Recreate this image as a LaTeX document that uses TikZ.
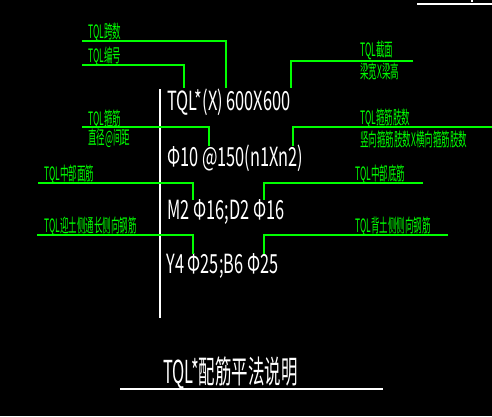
\documentclass[tikz,border=0pt]{standalone}
\usepackage{fontspec}
\setmainfont{Noto Sans CJK SC}[FakeStretch=0.62]
\newfontfamily\gfont{Noto Sans CJK SC}[FakeStretch=0.46]
\newfontfamily\tfont{Noto Sans CJK SC}[FakeStretch=0.52]
\definecolor{cadgreen}{RGB}{0,255,0}
\tikzset{
  wtext/.style={white,anchor=west,inner sep=0pt,font=\fontsize{15}{15}\selectfont},
  gtext/.style={cadgreen,anchor=west,inner sep=0pt,font=\gfont\fontsize{10.5}{10.5}\selectfont},
  leader/.style={cadgreen,line width=0.6pt},
  wline/.style={white,line width=0.6pt}
}

\begin{document}
\begin{tikzpicture}[x=0.02cm,y=-0.02cm]
	\fill[black] (0,0) rectangle (492,416);
	\useasboundingbox (0,0) rectangle (492,416);

	% white notation
	\node[wtext] (sec) at (167,102) {TQL*(X) 600X600};
	\node[wtext] (stir) at (167,158) {Φ10 @150(n1Xn2)};
	\node[wtext] (mid) at (167,212.5) {M2 Φ16;D2 Φ16};
	\node[wtext] (side) at (166,266.5) {Y4 Φ25;B6 Φ25};

	\coordinate (axtop) at (160,89);
	\coordinate (axbot) at (160,318);
	\draw[wline] (axtop) -- (axbot);

	% green labels, left side
	\node[gtext] (span) at (88,32) {TQL跨数};
	\node[gtext] (num) at (88,56.5) {TQL编号};
	\node[gtext] (stirl) at (88,119) {TQL箍筋};
	\node[gtext] (stirl2) at (88,138) {直径@间距};
	\node[gtext] (top) at (44,174) {TQL中部面筋};
	\node[gtext] (soil) at (44,226.5) {TQL迎土侧通长侧向钢筋};

	% green labels, right side
	\node[gtext] (size) at (360,50.5) {TQL截面};
	\node[gtext] (size2) at (360,71.5) {梁宽X梁高};
	\node[gtext] (legs) at (360,118.5) {TQL箍筋肢数};
	\node[gtext] (legs2) at (360,139) {竖向箍筋肢数X横向箍筋肢数};
	\node[gtext] (bot) at (355,174) {TQL中部底筋};
	\node[gtext] (back) at (355,226.5) {TQL背土侧侧向钢筋};

	% leaders
	\coordinate (spanA) at (82,41);    \coordinate (spanB) at (226,88);
	\coordinate (numA) at (82,65);     \coordinate (numB) at (184,88);
	\coordinate (sizeA) at (413,61);   \coordinate (sizeB) at (291,88);
	\coordinate (stirA) at (82,127);   \coordinate (stirB) at (209,146);
	\coordinate (legsA) at (492,127);  \coordinate (legsB) at (293,146);
	\coordinate (topA) at (38,183);    \coordinate (topB) at (193,200);
	\coordinate (botA) at (423,183);   \coordinate (botB) at (264,200);
	\coordinate (soilA) at (37,235);   \coordinate (soilB) at (193,254);
	\coordinate (backA) at (448,235);  \coordinate (backB) at (264,254);

	\draw[leader] (spanA) -| (spanB);
	\draw[leader] (numA) -| (numB);
	\draw[leader] (sizeA) -| (sizeB);
	\draw[leader] (stirA) -| (stirB);
	\draw[leader] (legsA) -| (legsB);
	\draw[leader] (topA) -| (topB);
	\draw[leader] (botA) -| (botB);
	\draw[leader] (soilA) -| (soilB);
	\draw[leader] (backA) -| (backB);

	% title
	\node[white,anchor=west,inner sep=0pt,font=\tfont\fontsize{18}{18}\selectfont] (title) at (163,373) {TQL*配筋平法说明};
	\coordinate (ulA) at (120,389);
	\coordinate (ulB) at (383,389);
	\draw[wline] (ulA) -- (ulB);

	% corner mark
	\coordinate (cnA) at (417,4);
	\coordinate (cnB) at (492,4);
	\draw[wline] (cnA) -- (cnB);
	\coordinate (dotA) at (472,0);
	\coordinate (dotB) at (472,1.5);
	\draw[wline] (dotA) -- (dotB);
\end{tikzpicture}
\end{document}
